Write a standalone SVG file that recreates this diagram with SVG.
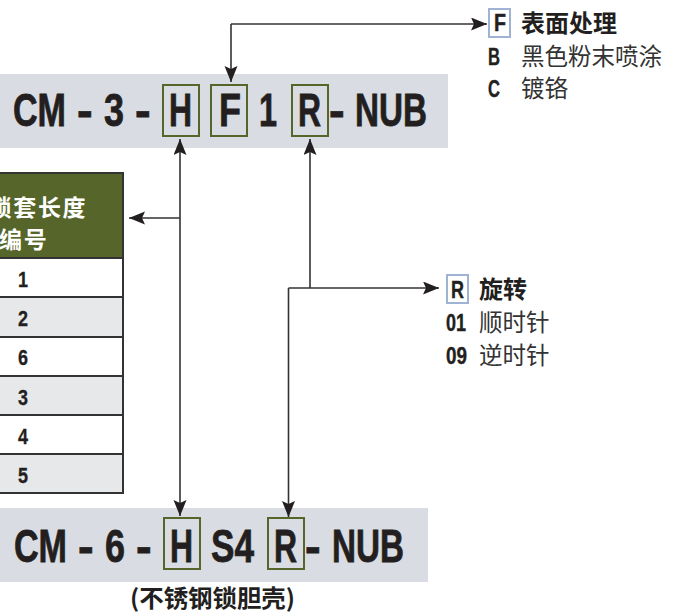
<svg xmlns="http://www.w3.org/2000/svg" width="680" height="614" viewBox="0 0 680 614">
<style>
.band{fill:#d9dce2}
.g{fill:none;stroke:#56652a;stroke-width:2}
.b{fill:#fff;stroke:#9fb4d4;stroke-width:2}
.big{font:bold 47px "Liberation Sans",sans-serif;fill:#231f20;stroke:#231f20;stroke-width:.8}
.lat{font:bold 23px "Liberation Sans",sans-serif;fill:#231f20;stroke:#231f20;stroke-width:.4}
.num{font:bold 22px "Liberation Sans",sans-serif;fill:#231f20;stroke:#231f20;stroke-width:.3}
.cb{font:bold 24px "Noto Sans CJK SC",sans-serif;fill:#231f20}
.cr{font:23.500px "Noto Sans CJK SC",sans-serif;fill:#333}
.ch{font:bold 23px "Noto Sans CJK SC",sans-serif;fill:#fff;letter-spacing:1.700px}
.row{stroke:#333;stroke-width:2}
.ln{fill:none;stroke:#333;stroke-width:1.6}
</style>
<defs>
<marker id="a" markerUnits="userSpaceOnUse" markerWidth="17" markerHeight="14" refX="16" refY="6.500" orient="auto"><path d="M0 0L16 6.500L0 13L3 6.500Z" fill="#231f20"/></marker>
</defs>
<g id="code-top">
<rect class="band" x="0" y="74" width="448" height="74"/>
<rect class="g" x="163" y="85" width="36" height="51"/>
<rect class="g" x="211" y="85" width="36" height="51"/>
<rect class="g" x="292" y="85" width="36" height="51"/>
<text class="big" transform="translate(13 126) scale(.725 1)">CM</text>
<text class="big" transform="translate(77 126)">-</text>
<text class="big" transform="translate(104 126) scale(.765 1)">3</text>
<text class="big" transform="translate(135 126)">-</text>
<text class="big" transform="translate(169 126) scale(.678 1)">H</text>
<text class="big" transform="translate(219 126) scale(.766 1)">F</text>
<text class="big" transform="translate(259 126) scale(.69 1)">1</text>
<text class="big" transform="translate(298 126) scale(.678 1)">R</text>
<text class="big" transform="translate(329 126)">-</text>
<text class="big" transform="translate(355 126) scale(.707 1)">NUB</text>
</g>
<g id="table">
<rect x="-2" y="173" width="125" height="85" fill="#56652a" stroke="#333" stroke-width="2"/>
<rect x="-2" y="258" width="125" height="39" fill="#fff"/>
<rect x="-2" y="297" width="125" height="40" fill="#e7e8ea"/>
<rect x="-2" y="337" width="125" height="39" fill="#fff"/>
<rect x="-2" y="376" width="125" height="39" fill="#e7e8ea"/>
<rect x="-2" y="415" width="125" height="39" fill="#fff"/>
<rect x="-2" y="454" width="125" height="39" fill="#e7e8ea"/>
<path class="row" fill="none" d="M0 258H123M0 297H123M0 337H123M0 376H123M0 415H123M0 454H123M0 493H123M123 173V494"/>
<text class="ch" x="-11.500" y="216">锁套长度</text>
<text class="ch" x="-1" y="248">编号</text>
<text class="num" x="18" y="287" textLength="10" lengthAdjust="spacingAndGlyphs">1</text>
<text class="num" x="18" y="326" textLength="10" lengthAdjust="spacingAndGlyphs">2</text>
<text class="num" x="18" y="365" textLength="10" lengthAdjust="spacingAndGlyphs">6</text>
<text class="num" x="18" y="405" textLength="10" lengthAdjust="spacingAndGlyphs">3</text>
<text class="num" x="18" y="444" textLength="10" lengthAdjust="spacingAndGlyphs">4</text>
<text class="num" x="18" y="483" textLength="10" lengthAdjust="spacingAndGlyphs">5</text>
</g>
<g id="code-bottom">
<rect class="band" x="0" y="508" width="428" height="74"/>
<rect class="g" x="164" y="518" width="36" height="51"/>
<rect class="g" x="268" y="518" width="36" height="51"/>
<text class="big" transform="translate(14 562) scale(.725 1)">CM</text>
<text class="big" transform="translate(78 562)">-</text>
<text class="big" transform="translate(105 562) scale(.765 1)">6</text>
<text class="big" transform="translate(136 562)">-</text>
<text class="big" transform="translate(170 562) scale(.678 1)">H</text>
<text class="big" transform="translate(211 562) scale(.748 1)">S4</text>
<text class="big" transform="translate(274 562) scale(.678 1)">R</text>
<text class="big" transform="translate(305 562)">-</text>
<text class="big" transform="translate(332 562) scale(.707 1)">NUB</text>
<text class="cb" x="130" y="607" textLength="165" lengthAdjust="spacingAndGlyphs">(不锈钢锁胆壳)</text>
</g>
<g id="legend-f">
<rect class="b" x="489" y="9" width="21" height="28"/>
<text class="lat" x="494" y="31" textLength="12" lengthAdjust="spacingAndGlyphs">F</text>
<text class="cb" x="521" y="32">表面处理</text>
<text class="lat" x="488" y="65" textLength="12" lengthAdjust="spacingAndGlyphs">B</text>
<text class="cr" x="521" y="65">黑色粉末喷涂</text>
<text class="lat" x="488" y="97" textLength="12" lengthAdjust="spacingAndGlyphs">C</text>
<text class="cr" x="521" y="97">镀铬</text>
</g>
<g id="legend-r">
<rect class="b" x="447" y="275" width="21" height="28"/>
<text class="lat" x="451" y="298" textLength="13" lengthAdjust="spacingAndGlyphs">R</text>
<text class="cb" x="479" y="298">旋转</text>
<text class="lat" x="446" y="331" textLength="20" lengthAdjust="spacingAndGlyphs">01</text>
<text class="cr" x="479" y="331">顺时针</text>
<text class="lat" x="446" y="364" textLength="21" lengthAdjust="spacingAndGlyphs">09</text>
<text class="cr" x="479" y="364">逆时针</text>
</g>
<g id="connectors">
<path class="ln" d="M231 24V82" marker-end="url(#a)"/>
<path class="ln" d="M231 24H487" marker-end="url(#a)"/>
<path class="ln" d="M180 300V139" marker-end="url(#a)"/>
<path class="ln" d="M180 300V516" marker-end="url(#a)"/>
<path class="ln" d="M180 218H129" marker-end="url(#a)"/>
<path class="ln" d="M310 288V139" marker-end="url(#a)"/>
<path class="ln" d="M288.500 288H439" marker-end="url(#a)"/>
<path class="ln" d="M288.500 288V517" marker-end="url(#a)"/>
</g>
</svg>
